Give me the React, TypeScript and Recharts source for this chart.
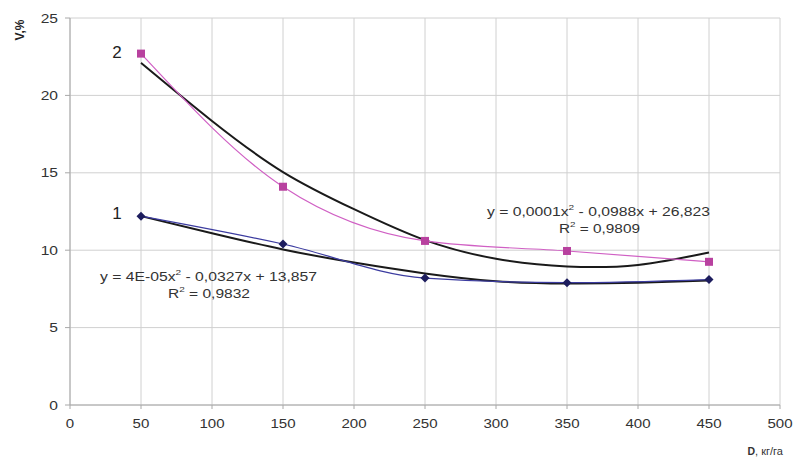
import React from "react";
import { LineChart, Line, XAxis, YAxis, CartesianGrid } from "recharts";

const xTicks = [0, 50, 100, 150, 200, 250, 300, 350, 400, 450, 500];
const yTicks = [0, 5, 10, 15, 20, 25];

const pointX = [50, 150, 250, 350, 450];
const series1 = [12.2, 10.4, 8.2, 7.9, 8.1];
const series2 = [22.7, 14.1, 10.6, 9.95, 9.25];

const trendX = [50, 100, 150, 200, 250, 300, 350, 400, 450];
const trend1 = [12.2, 11.1, 10.05, 9.2, 8.5, 8.0, 7.85, 7.9, 8.05];
const trend2 = [22.1, 18.35, 15.05, 12.65, 10.65, 9.45, 8.95, 9.05, 9.85];

const d1 = pointX.map((x, i) => ({ x, v: series1[i] }));
const d2 = pointX.map((x, i) => ({ x, v: series2[i] }));
const t1 = trendX.map((x, i) => ({ x, v: trend1[i] }));
const t2 = trendX.map((x, i) => ({ x, v: trend2[i] }));

const FONT = "'Liberation Sans', Arial, sans-serif";

const Square = (props: any) => {
  const { cx, cy, index } = props;
  if (cx == null || cy == null) return <g key={"s" + index} />;
  return <rect key={"s" + index} x={cx - 4} y={cy - 4} width={8} height={8} fill="#b8419f" />;
};

const Diamond = (props: any) => {
  const { cx, cy, index } = props;
  if (cx == null || cy == null) return <g key={"d" + index} />;
  return (
    <polygon
      key={"d" + index}
      points={`${cx},${cy - 4.5} ${cx + 4.5},${cy} ${cx},${cy + 4.5} ${cx - 4.5},${cy}`}
      fill="#1d1d5e"
    />
  );
};

const XTick = (props: any) => {
  const { x, y, payload } = props;
  return (
    <g transform={`translate(${x},${y})`}>
      <text textAnchor="middle" dy="0.71em" transform="scale(1.16,1)" fontSize={13} fontFamily={FONT} fill="#333">
        {payload.value}
      </text>
    </g>
  );
};

const YTick = (props: any) => {
  const { x, y, payload } = props;
  return (
    <g transform={`translate(${x},${y})`}>
      <text textAnchor="end" dy="0.355em" transform="scale(1.2,1)" fontSize={13} fontFamily={FONT} fill="#333">
        {payload.value}
      </text>
    </g>
  );
};

export default function App() {
  return (
    <div style={{ position: "absolute", left: 0, top: 0, width: 806, height: 458, background: "#fff" }}>
      <LineChart
        width={806}
        height={458}
        margin={{ top: 18, right: 26, bottom: 23, left: 0 }}
      >
        <CartesianGrid stroke="#d0d0d0" strokeWidth={1} />
        <XAxis
          type="number"
          dataKey="x"
          domain={[0, 500]}
          ticks={xTicks}
          height={30}
          stroke="#a8a8a8"
          tickSize={4}
          tickMargin={10}
          tick={<XTick />}
          allowDuplicatedCategory={false}
        />
        <YAxis
          type="number"
          domain={[0, 25]}
          ticks={yTicks}
          width={70}
          stroke="#a8a8a8"
          tickSize={5}
          tickMargin={7}
          tick={<YTick />}
        />
        <Line data={t1} dataKey="v" type="natural" stroke="#1a1a1a" strokeWidth={2} dot={false} isAnimationActive={false} />
        <Line data={t2} dataKey="v" type="natural" stroke="#1a1a1a" strokeWidth={2} dot={false} isAnimationActive={false} />
        <Line data={d1} dataKey="v" type="monotone" stroke="#3c3ca0" strokeWidth={1.2} dot={Diamond} isAnimationActive={false} />
        <Line data={d2} dataKey="v" type="monotone" stroke="#d060c4" strokeWidth={1.2} dot={Square} isAnimationActive={false} />
      </LineChart>
      <svg
        width={806}
        height={458}
        style={{ position: "absolute", left: 0, top: 0, pointerEvents: "none" }}
        fontFamily={FONT}
      >
        <text x={20} y={30} transform="rotate(-90 20 30)" textAnchor="middle" dominantBaseline="central" fontSize={12} fontWeight="bold" fill="#222">V,%</text>
        <text x={117} y={52} textAnchor="middle" dominantBaseline="central" fontSize={17} fill="#222">2</text>
        <text x={117} y={213} textAnchor="middle" dominantBaseline="central" fontSize={17} fill="#222">1</text>
        <text x={487} y={212} dominantBaseline="central" fontSize={12.5} fill="#333" textLength={223} lengthAdjust="spacingAndGlyphs">
          y = 0,0001x<tspan dy={-5} fontSize={8}>2</tspan><tspan dy={5}> - 0,0988x + 26,823</tspan>
        </text>
        <text x={559} y={229} dominantBaseline="central" fontSize={12.5} fill="#333" textLength={81} lengthAdjust="spacingAndGlyphs">
          R<tspan dy={-5} fontSize={8}>2</tspan><tspan dy={5}> = 0,9809</tspan>
        </text>
        <text x={100} y={277} dominantBaseline="central" fontSize={12.5} fill="#333" textLength={217} lengthAdjust="spacingAndGlyphs">
          y = 4E-05x<tspan dy={-5} fontSize={8}>2</tspan><tspan dy={5}> - 0,0327x + 13,857</tspan>
        </text>
        <text x={168} y={294} dominantBaseline="central" fontSize={12.5} fill="#333" textLength={82} lengthAdjust="spacingAndGlyphs">
          R<tspan dy={-5} fontSize={8}>2</tspan><tspan dy={5}> = 0,9832</tspan>
        </text>
        <text x={783} y={451} textAnchor="end" dominantBaseline="central" fontSize={11} fill="#333">
          <tspan fontWeight="bold" fontSize={10.5}>D</tspan>, кг/га
        </text>
      </svg>
    </div>
  );
}
